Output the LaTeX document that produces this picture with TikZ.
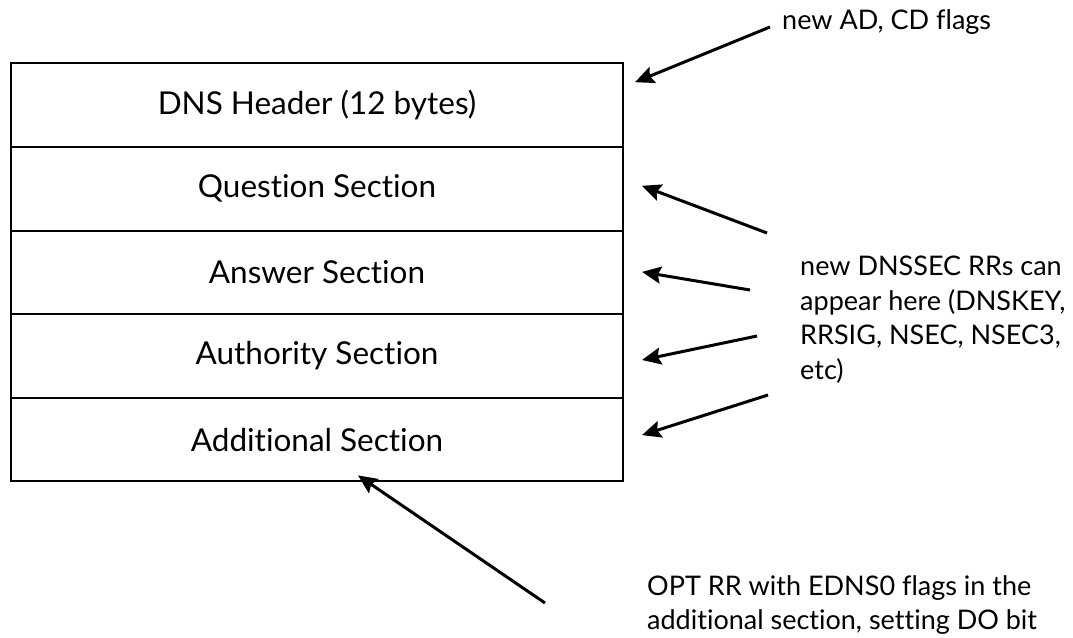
\documentclass[tikz,border=0pt]{standalone}
\usepackage{fontspec}
\setmainfont{Lato}[Ligatures=NoCommon]
\usetikzlibrary{arrows.meta}
\tikzset{
  rowbox/.style={draw=black, line width=2pt, minimum width=612pt, minimum height=83.6pt,
    inner sep=0pt, outer sep=0pt, font=\fontsize{31.5}{36}\selectfont},
  note/.style={inner sep=0pt, align=left, font=\fontsize{27}{34.5}\selectfont},
  ptr/.style={line width=3pt, -{Stealth[length=19pt,width=17pt,inset=3pt]}}
}
\begin{document}
\begin{tikzpicture}[x=1pt,y=-1pt]
\useasboundingbox (0,0) rectangle (1073,637);
\node[rowbox] (hdr) at (317,105.2) {DNS Header (12 bytes)};
\node[rowbox] (q) at (317,188.8) {Question Section};
\node[rowbox] (a) at (317,272.4) {Answer Section};
\node[rowbox] (au) at (317,356) {Authority Section};
\node[rowbox] (ad) at (317,439.6) {Additional Section};

\node[note, anchor=base west] (n1) at (782,29) {new AD, CD flags};
\node[note, anchor=north west] (n2) at (800,256) {new DNSSEC RRs can\\appear here (DNSKEY,\\RRSIG, NSEC, NSEC3,\\etc)};
\node[note, anchor=north west] (n3) at (647,575) {OPT RR with EDNS0 flags in the\\additional section, setting DO bit};

\coordinate (t1) at (770,27);
\coordinate (t2) at (767,233);
\coordinate (t3) at (750,290);
\coordinate (t4) at (757,336);
\coordinate (t5) at (768,395);
\coordinate (t6) at (545,603);

\draw[ptr] (t1) -- ([xshift=12pt,yshift=23pt]hdr.east);
\draw[ptr] (t2) -- ([xshift=19pt,yshift=3pt]q.east);
\draw[ptr] (t3) -- ([xshift=19pt,yshift=0.5pt]a.east);
\draw[ptr] (t4) -- ([xshift=19pt,yshift=-4pt]au.east);
\draw[ptr] (t5) -- ([xshift=19pt,yshift=4.5pt]ad.east);
\draw[ptr] (t6) -- ([xshift=41pt,yshift=6pt]ad.south);
\end{tikzpicture}
\end{document}
